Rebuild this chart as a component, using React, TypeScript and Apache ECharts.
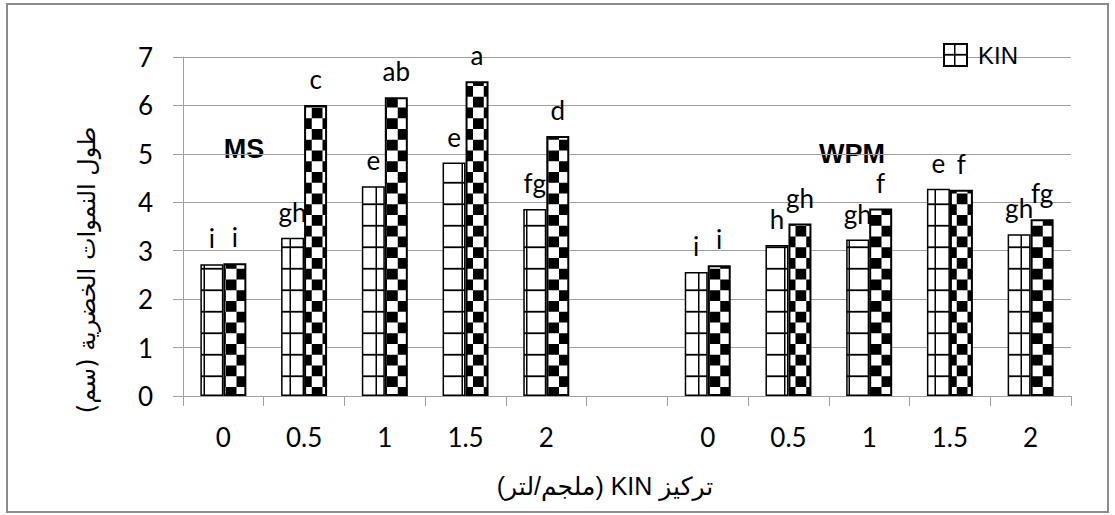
import { useEffect, useRef } from 'react';
import * as echarts from 'echarts';

const categories = ['0', '0.5', '1', '1.5', '2', '', '0', '0.5', '1', '1.5', '2'];
const kinValues = [2.72, 3.27, 4.33, 4.82, 3.86, null, 2.56, 3.12, 3.23, 4.28, 3.34];
const secondValues = [2.74, 6.01, 6.17, 6.5, 5.37, null, 2.7, 3.56, 3.87, 4.26, 3.65];
const kinLetters = ['i', 'gh', 'e', 'e', 'fg', '', 'i', 'h', 'gh', 'e', 'gh'];
const secondLetters = ['i', 'c', 'ab', 'a', 'd', '', 'i', 'gh', 'f', 'f', 'fg'];
const yMin = 0;
const yMax = 7;
const yStep = 1;

const RLE = '\u202B';
const PDF = '\u202C';
const yTitle = 'طول النموات الخضرية (سم)';
const xTitle = 'تركيز KIN (ملجم/لتر)';

function makeGrid(): string {
  const c = document.createElement('canvas');
  c.width = 86;
  c.height = 86;
  const ctx = c.getContext('2d')!;
  ctx.fillStyle = '#ffffff';
  ctx.fillRect(0, 0, 86, 86);
  ctx.fillStyle = '#000000';
  for (const p of [21.5, 64.5]) {
    ctx.fillRect(p - 1.5, 0, 3, 86);
    ctx.fillRect(0, p - 1.8, 86, 3.6);
  }
  return c.toDataURL();
}

function makeChecker(): string {
  const c = document.createElement('canvas');
  c.width = 86;
  c.height = 86;
  const ctx = c.getContext('2d')!;
  ctx.fillStyle = '#ffffff';
  ctx.fillRect(0, 0, 86, 86);
  ctx.fillStyle = '#000000';
  for (let i = 0; i < 4; i++) {
    for (let j = 0; j < 4; j++) {
      if ((i + j) % 2 === 1) ctx.fillRect(i * 21.5, j * 21.5, 21.5, 21.5);
    }
  }
  return c.toDataURL();
}

export default function App() {
  const ref = useRef<HTMLDivElement>(null);
  useEffect(() => {
    if (!ref.current) return;
    const chart = echarts.init(ref.current, null, { renderer: 'svg' });
    const gridPattern: any = { image: makeGrid(), repeat: 'repeat', imageWidth: 43, imageHeight: 43, x: 0, y: 0 };
    const checkerPattern: any = { image: makeChecker(), repeat: 'repeat', imageWidth: 43, imageHeight: 43, x: 0, y: 7 };
    const calibri = 'Lato, Carlito, "Open Sans", sans-serif';
    chart.setOption({
      animation: false,
      backgroundColor: '#ffffff',
      grid: { left: 183, right: 44, top: 57, bottom: 119, containLabel: false },
      legend: {
        data: ['KIN'],
        left: 938,
        top: 38,
        icon: 'rect',
        itemWidth: 23,
        itemHeight: 22,
        itemGap: 10,
        textStyle: { fontFamily: '"Liberation Sans", Arial, sans-serif', fontSize: 24, color: '#000', padding: [0, 0, 8, 6] },
      },
      xAxis: {
        type: 'category',
        data: categories,
        axisLine: { lineStyle: { color: '#a0a0a0', width: 1 } },
        axisTick: { show: true, interval: 0, length: 10, lineStyle: { color: '#a0a0a0' } },
        axisLabel: { interval: 0, margin: 28, fontFamily: calibri, fontSize: 26, color: '#000' },
      },
      yAxis: {
        type: 'value',
        min: yMin,
        max: yMax,
        interval: yStep,
        axisLine: { show: true, lineStyle: { color: '#a0a0a0', width: 1 } },
        axisTick: { show: true, length: 10, lineStyle: { color: '#a0a0a0' } },
        splitLine: { lineStyle: { color: '#a0a0a0', width: 1 } },
        axisLabel: { margin: 30, fontFamily: calibri, fontSize: 26, color: '#000' },
      },
      series: [
        {
          name: 'KIN',
          type: 'bar',
          data: kinValues,
          barWidth: 23,
          barGap: '0%',
          itemStyle: { color: gridPattern, borderColor: '#000', borderWidth: 1.5 },
          label: {
            show: true,
            position: 'top',
            distance: 13,
            fontFamily: calibri,
            fontSize: 26,
            color: '#000',
            formatter: (p: any) => kinLetters[p.dataIndex] || '',
          },
        },
        {
          name: 'KIN2',
          type: 'bar',
          data: secondValues,
          barWidth: 23,
          barGap: '0%',
          itemStyle: { color: checkerPattern, borderColor: '#000', borderWidth: 2 },
          label: {
            show: true,
            position: 'top',
            distance: 13,
            fontFamily: calibri,
            fontSize: 26,
            color: '#000',
            formatter: (p: any) => secondLetters[p.dataIndex] || '',
          },
        },
      ],
      graphic: [
        {
          type: 'rect',
          z: -10,
          shape: { x: 7, y: 4, width: 1101, height: 508 },
          style: { fill: 'none', stroke: '#8c8c8c', lineWidth: 2 },
        },
        {
          type: 'text',
          x: 244,
          y: 149,
          style: {
            text: 'MS',
            fontFamily: '"Liberation Sans", Arial, sans-serif',
            fontWeight: 'bold',
            fontSize: 27,
            fill: '#000',
            align: 'center',
            verticalAlign: 'middle',
          },
        },
        {
          type: 'text',
          x: 852,
          y: 154,
          style: {
            text: 'WPM',
            fontFamily: '"Liberation Sans", Arial, sans-serif',
            fontWeight: 'bold',
            fontSize: 27,
            fill: '#000',
            align: 'center',
            verticalAlign: 'middle',
          },
        },
        {
          type: 'text',
          x: 87,
          y: 270,
          rotation: Math.PI / 2,
          style: {
            text: RLE + yTitle + PDF,
            fontFamily: '"DejaVu Sans", sans-serif',
            fontSize: 24,
            fill: '#000',
            align: 'center',
            verticalAlign: 'middle',
          },
        },
        {
          type: 'text',
          x: 605,
          y: 486,
          style: {
            text: RLE + xTitle + PDF,
            fontFamily: '"Liberation Sans", "DejaVu Sans", sans-serif',
            fontSize: 25,
            fill: '#000',
            align: 'center',
            verticalAlign: 'middle',
          },
        },
      ],
    });
    return () => chart.dispose();
  }, []);
  return <div ref={ref} style={{ position: 'absolute', left: 0, top: 0, width: 1115, height: 515 }} />;
}
